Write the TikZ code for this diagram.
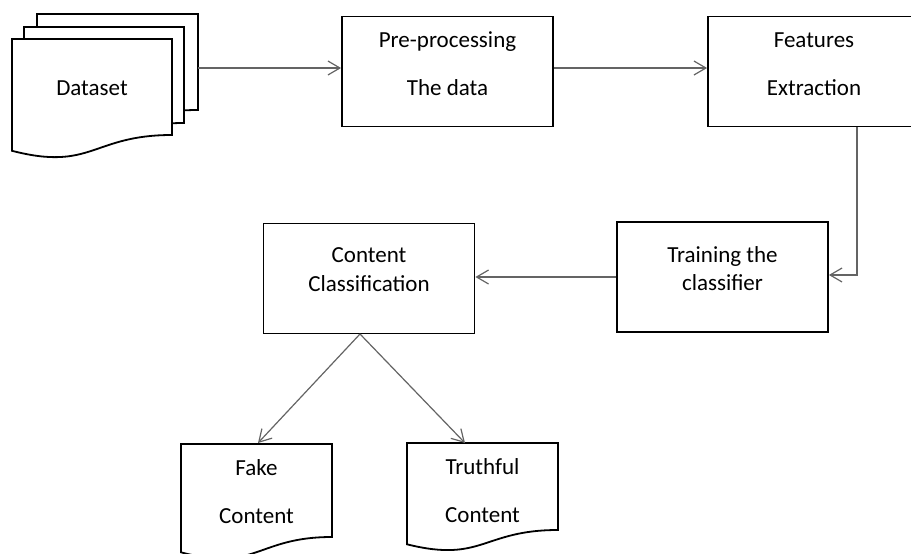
\documentclass[tikz,border=0pt]{standalone}
\usepackage{fontspec}
\setmainfont{Carlito}
\usetikzlibrary{arrows.meta,calc}
\definecolor{connc}{RGB}{100,100,100}
\begin{document}
\begin{tikzpicture}[x=1pt,y=-1pt,
  box/.style={draw=black,line width=1.8pt,fill=white,minimum width=211pt,minimum height=110pt,inner sep=0pt},
  doc/.style={draw=black,line width=1.8pt,fill=white,line join=miter},
  lbl/.style={anchor=base,inner sep=0pt,font=\fontsize{23}{28}\selectfont},
  conn/.style={draw=connc,line width=1.2pt,-{Straight Barb[length=12pt,width=14pt]}},
  plainline/.style={draw=connc,line width=1.2pt}]
\useasboundingbox (0,0) rectangle (911,554);

% Dataset stack
\draw[doc] (37,14) -- (198,14) -- (198,110) .. controls (117.5,110) and (117.5,146.5) .. (37,125.8) -- cycle;
\draw[doc] (24,27) -- (184,27) -- (184,123) .. controls (104,123) and (104,159.5) .. (24,138.8) -- cycle;
\draw[doc] (12,39) -- (172,39) -- (172,135) .. controls (92,135) and (92,171.5) .. (12,150.8) -- cycle;
\node[lbl] (dsT) at (92,95) {Dataset};
\coordinate (dsR) at (198,68);

% Boxes
\node[box] (pre) at (447.5,71.5) {};
\node[box] (feat) at (813.5,71.5) {};
\node[box] (train) at (722.5,277) {};
\node[box] (cont) at (369,278.5) {};

\node[lbl] (preT1) at (447.5,47) {Pre-processing};
\node[lbl] (preT2) at (447.5,95) {The data};
\node[lbl] (featT1) at (814,47) {Features};
\node[lbl] (featT2) at (814,95) {Extraction};
\node[lbl] (trainT1) at (722.5,262) {Training the};
\node[lbl] (trainT2) at (722.5,290) {classifier};
\node[lbl] (contT1) at (369,262) {Content};
\node[lbl] (contT2) at (369,291) {Classification};

% Output documents
\draw[doc] (181,444) -- (332,444) -- (332,537) .. controls (256.5,537) and (256.5,572.4) .. (181,552.3) -- cycle;
\draw[doc] (407,443) -- (558,443) -- (558,530) .. controls (482.5,530) and (482.5,563.1) .. (407,544.3) -- cycle;
\node[lbl] (fakeT1) at (256.5,475) {Fake};
\node[lbl] (fakeT2) at (256.5,523) {Content};
\node[lbl] (truthT1) at (482.5,474) {Truthful};
\node[lbl] (truthT2) at (482.5,522) {Content};
\coordinate (fakeTop) at (258,443);
\coordinate (truthTop) at (465,443);

% Connectors
\draw[conn] (dsR) -- (dsR -| pre.west);
\draw[conn] (pre.east |- dsR) -- (feat.west |- dsR);
\coordinate (bend) at (857,275);
\draw[conn] (bend |- feat.south) -- (bend) -- (bend -| train.east);
\draw[conn] (train.west) -- (train.west -| cont.east);
\coordinate (split) at (360,334);
\draw[conn] (split) -- (fakeTop);
\draw[conn] (split) -- (truthTop);
\end{tikzpicture}
\end{document}
